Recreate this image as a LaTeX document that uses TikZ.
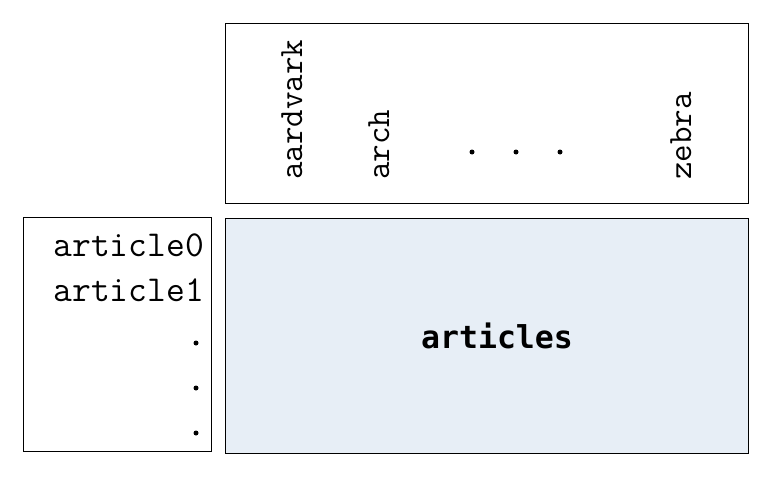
\documentclass[tikz,border=0pt]{standalone}
\usepackage{fontspec}
\newfontfamily\dvmono{DejaVu Sans Mono}
\definecolor{boxblue}{HTML}{E7EEF6}
\tikzset{
  frame/.style={draw=black, line width=1pt},
  vword/.style={font=\ttfamily\fontsize{34}{34}\selectfont, inner sep=0pt, rotate=90, anchor=base west},
  rowword/.style={font=\ttfamily\fontsize{36.5}{36.5}\selectfont, inner sep=0pt, anchor=base east},
  dotmark/.style={circle, fill=black, inner sep=0pt, minimum size=5pt},
}
\begin{document}
\begin{tikzpicture}[x=1pt, y=-1pt]
\useasboundingbox (0,0) rectangle (770,479);
\node[frame, minimum width=523pt, minimum height=180pt, anchor=north west, inner sep=0pt] (top) at (225,23) {};
\node[frame, minimum width=188pt, minimum height=234pt, anchor=north west, inner sep=0pt] (left) at (23,217) {};
\node[frame, fill=boxblue, minimum width=523pt, minimum height=235pt, anchor=north west, inner sep=0pt] (main) at (225,218) {};
\node[font=\dvmono\bfseries\fontsize{31.5}{31.5}\selectfont, inner sep=0pt] (lbl) at ([xshift=10pt]main.center) {articles};
% column words
\node[vword] (w1) at (302,180) {aardvark};
\node[vword] (w2) at (389,180) {arch};
\node[vword] (w3) at (691,180) {zebra};
\node[dotmark] (d1) at (472,152) {};
\node[dotmark] (d2) at (516,152) {};
\node[dotmark] (d3) at (560,152) {};
% row words
\node[rowword] (r0) at (204,256) {article0};
\node[rowword] (r1) at (204,301) {article1};
\node[dotmark] (e1) at (196,343) {};
\node[dotmark] (e2) at (196,388) {};
\node[dotmark] (e3) at (196,433) {};
\end{tikzpicture}
\end{document}
